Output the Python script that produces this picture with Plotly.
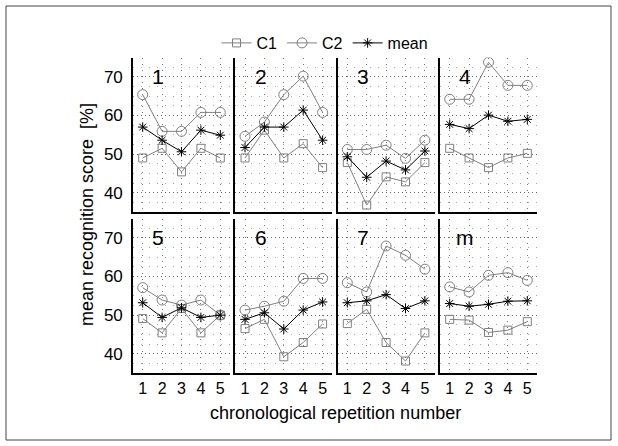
import plotly.graph_objects as go

# ---------------- data ----------------
repetitions = [1, 2, 3, 4, 5]
panel_labels = ["1", "2", "3", "4", "5", "6", "7", "m"]

c1_scores = [
    [49.0, 51.5, 45.4, 51.5, 49.0],
    [49.0, 56.2, 49.0, 52.7, 46.5],
    [47.8, 36.8, 44.1, 42.8, 47.8],
    [51.5, 49.0, 46.5, 49.0, 50.2],
    [49.1, 45.4, 51.7, 45.4, 50.0],
    [46.5, 48.9, 39.2, 42.9, 47.7],
    [47.8, 51.5, 42.9, 38.1, 45.4],
    [48.9, 48.7, 45.5, 46.1, 48.3],
]
c2_scores = [
    [65.4, 55.9, 55.9, 60.8, 60.8],
    [54.6, 58.3, 65.4, 70.2, 60.8],
    [51.2, 51.2, 52.3, 48.9, 53.6],
    [64.2, 64.2, 73.8, 67.8, 67.8],
    [57.1, 53.9, 52.6, 53.9, 50.0],
    [51.3, 52.3, 53.6, 59.5, 59.5],
    [58.4, 56.0, 67.9, 65.5, 61.9],
    [57.3, 56.0, 60.3, 61.0, 59.0],
]
mean_scores = [
    [57.0, 53.6, 50.6, 56.2, 54.9],
    [51.7, 57.0, 57.0, 61.4, 53.6],
    [49.3, 44.0, 48.2, 45.9, 50.8],
    [57.7, 56.6, 60.1, 58.5, 59.0],
    [53.2, 49.4, 51.9, 49.4, 50.0],
    [48.9, 50.6, 46.4, 51.3, 53.4],
    [53.2, 53.7, 55.3, 51.7, 53.7],
    [53.0, 52.3, 52.8, 53.6, 53.7],
]
y_ticks = [40, 50, 60, 70]
x_title = "chronological repetition number"
y_title = "mean recognition score  [%]"

# ---------------- layout geometry (pixels) ----------------
W, H = 618, 446
col_left = [133, 235.3, 337.6, 440]
col_w = 97
row_top = [(57.6, 212), (218.6, 373)]

def px(x):
    return x / W

def py(y):
    return 1 - y / H

GRAY = "#808080"
FONT = "Liberation Sans, Arial, sans-serif"

fig = go.Figure()
layout = {}
annotations = []

for i in range(8):
    r, c = divmod(i, 4)
    n = i + 1
    xa = "x" if n == 1 else f"x{n}"
    ya = "y" if n == 1 else f"y{n}"
    show = (i == 0)
    fig.add_trace(go.Scatter(
        x=repetitions, y=c1_scores[i], mode="lines+markers", name="C1",
        line=dict(color=GRAY, width=1),
        marker=dict(symbol="square-open", size=8, color=GRAY, line=dict(width=1, color=GRAY)),
        xaxis=xa, yaxis=ya, showlegend=show, legendrank=1))
    fig.add_trace(go.Scatter(
        x=repetitions, y=c2_scores[i], mode="lines+markers", name="C2",
        line=dict(color=GRAY, width=1),
        marker=dict(symbol="circle-open", size=10, color=GRAY, line=dict(width=1, color=GRAY)),
        xaxis=xa, yaxis=ya, showlegend=show, legendrank=2))
    fig.add_trace(go.Scatter(
        x=repetitions, y=mean_scores[i], mode="lines+markers", name="mean",
        line=dict(color="black", width=1),
        marker=dict(symbol="asterisk-open", size=8, color="black", line=dict(width=1, color="black")),
        xaxis=xa, yaxis=ya, showlegend=show, legendrank=3))

    top, bot = row_top[r]
    kx = "xaxis" if n == 1 else f"xaxis{n}"
    ky = "yaxis" if n == 1 else f"yaxis{n}"
    layout[kx] = dict(
        domain=[px(col_left[c]), px(col_left[c] + col_w)],
        anchor=ya, range=[0.5, 5.5], tickvals=repetitions,
        showticklabels=(r == 1), ticks="",
        showgrid=True, gridcolor="#777", griddash="1px,5px", gridwidth=1,
        showline=True, linecolor="black", linewidth=1.6, mirror=False,
        zeroline=False, fixedrange=True,
        tickfont=dict(size=16, family=FONT, color="black"),
    )
    layout[ky] = dict(
        domain=[py(bot), py(top)],
        anchor=xa, range=[35, 75], tickvals=y_ticks,
        showticklabels=(c == 0), ticks="outside", ticklen=5,
        tickcolor="rgba(0,0,0,0)",
        showgrid=True, gridcolor="#666", griddash="1px,3px", gridwidth=1,
        minor=dict(dtick=2.5, tick0=35, showgrid=True, gridcolor="#aaa",
                   griddash="1px,7px", gridwidth=1),
        showline=True, linecolor="black", linewidth=1.6, mirror=False,
        zeroline=False, fixedrange=True,
        tickfont=dict(size=17, family=FONT, color="black"),
    )
    annotations.append(dict(
        x=1.8, y=70, xref=xa, yref=ya, text=panel_labels[i], showarrow=False,
        font=dict(size=21, family=FONT, color="black"),
        xanchor="center", yanchor="middle"))

annotations.append(dict(
    x=px(335), y=py(413), xref="paper", yref="paper", text=x_title,
    showarrow=False, font=dict(size=18, family=FONT, color="black"),
    xanchor="center", yanchor="middle"))
annotations.append(dict(
    x=px(87), y=py(215), xref="paper", yref="paper", text=y_title,
    showarrow=False, textangle=-90, font=dict(size=18, family=FONT, color="black"),
    xanchor="center", yanchor="middle"))

fig.update_layout(
    **layout,
    annotations=annotations,
    width=W, height=H,
    margin=dict(l=0, r=0, t=0, b=0),
    paper_bgcolor="white", plot_bgcolor="white",
    font=dict(family=FONT, color="black"),
    legend=dict(orientation="h", x=px(325), y=py(43), xanchor="center",
                yanchor="middle", font=dict(size=16, family=FONT),
                bgcolor="rgba(0,0,0,0)", itemwidth=30, tracegroupgap=0),
    shapes=[dict(type="rect", xref="paper", yref="paper",
                 x0=px(6), x1=px(611), y0=py(440), y1=py(6),
                 line=dict(color="#444", width=1))],
)

fig.write_html("out.html")
